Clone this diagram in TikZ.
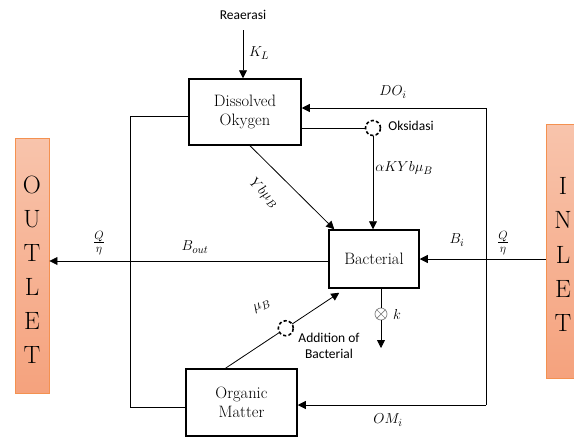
\documentclass[tikz,border=0pt]{standalone}
\usepackage{fontspec}
\newfontfamily\sansf{Carlito}
\usetikzlibrary{arrows.meta,calc}
\definecolor{boxtop}{RGB}{248,196,172}
\definecolor{boxbot}{RGB}{245,162,125}
\definecolor{boxline}{RGB}{244,145,80}
\begin{document}
\begin{tikzpicture}[x=1pt,y=-1pt,
  blk/.style={draw,line width=1.5pt,rectangle,minimum width=#1,align=center,font=\rmfamily\fontsize{16.5}{19}\selectfont,inner sep=0pt},
  port/.style={draw=boxline,line width=0.9pt,top color=boxtop,bottom color=boxbot,rectangle,inner sep=0pt},
  conn/.style={line width=0.8pt},
  arr/.style={line width=0.8pt,-{Triangle[length=8pt,width=8pt]}},
  lab/.style={font=\fontsize{15}{17}\selectfont},
  slab/.style={font=\sansf\fontsize{13.5}{16}\selectfont,align=center},
  big/.style={font=\rmfamily\fontsize{25}{27}\selectfont},
  dcirc/.style={circle,draw,line width=1.6pt,dash pattern=on 3.2pt off 2.2pt,minimum size=15pt,inner sep=0pt,fill=white}
]
\useasboundingbox (0,0) rectangle (574,437);
% ports
\node[port,minimum width=34pt,minimum height=255pt] (OUT) at (32,265.5) {};
\node[port,minimum width=44pt,minimum height=254pt] (IN) at (568,251) {};
\foreach \l/\y in {O/185,U/219,T/253,L/287,E/321,T/355}{\node[big] at (32,\y) {\l};}
\foreach \l/\y in {I/186,N/220,L/254.5,E/289,T/323}{\node[big] at (563,\y) {\l};}
% blocks
\node[blk=112pt,minimum height=66pt] (DO) at (245,112) {Dissolved\\Okygen};
\node[blk=90pt,minimum height=58pt] (Bac) at (374,259) {Bacterial};
\node[blk=111pt,minimum height=67pt] (OM) at (241.5,402.5) {Organic\\Matter};
% reaeration
\node[slab] (rea) at (243,15) {Reaerasi};
\coordinate (reaS) at (243,30);
\draw[arr] (reaS) -- (reaS |- DO.north);
\node[lab] at (259,53) {$K_L$};
% right inflow bus
\coordinate (r1) at (486,108);
\coordinate (r2) at (486,405);
\draw[conn] (r1) -- (r2);
\draw[arr] (r1) -- (r1 -| DO.east);
\draw[arr] (r2) -- (r2 -| OM.east);
\node[lab] at (393,92) {$DO_i$};
\node[lab] at (388,420) {$OM_i$};
% left bus
\coordinate (l1) at (130,116);
\coordinate (l2) at (130,407);
\draw[conn] (l1 -| DO.west) -- (l1) -- (l2) -- (l2 -| OM.west);
% outlet / inlet
\draw[arr] (Bac.west |- 0,261) -- (OUT.east |- 0,261);
\draw[arr] (IN.west |- Bac.east) -- (Bac.east);
\node[lab] at (195,247) {$B_{out}$};
\node[lab] at (457,240) {$B_i$};
\node[font=\fontsize{17}{19}\selectfont] at (99,243) {$\frac{Q}{\eta}$};
\node[font=\fontsize{17}{19}\selectfont] at (503,243) {$\frac{Q}{\eta}$};
% oxidation
\node[dcirc] (ox) at (373,128) {};
\draw[conn] (DO.east |- ox) -- (ox);
\draw[arr] (ox) -- (ox |- Bac.north);
\node[slab] at (411,126) {Oksidasi};
\node[lab] at (404,168) {$\alpha KYb\mu_B$};
% DO to bacterial
\draw[arr] ([xshift=5pt]DO.south) -- ([xshift=6pt]Bac.north west);
\node[lab,rotate=-44.4,inner sep=0pt] at (264,193) {$Yb\mu_B$};
% organic to bacterial
\coordinate (omA) at ([xshift=-16pt]OM.north);
\coordinate (bcA) at ([xshift=11pt,yshift=-4pt]Bac.south west);
\draw[arr] (omA) -- (bcA);
\node[dcirc] (add) at ($(omA)!0.53!(bcA)$) {};
\node[lab,rotate=25] at (262,306) {$\mu_B$};
\node[slab] at (329,346) {Addition of\\Bacterial};
% decay
\node[circle,draw=gray,line width=0.7pt,minimum size=12pt,inner sep=0pt] (kx) at (381,314) {};
\draw[gray,line width=0.7pt] (kx.north east) -- (kx.south west) (kx.north west) -- (kx.south east);
\draw[conn] (Bac.south -| kx) -- (kx);
\draw[arr] (kx) -- (381,348);
\node[lab] at (397,314) {$k$};
\end{tikzpicture}
\end{document}
